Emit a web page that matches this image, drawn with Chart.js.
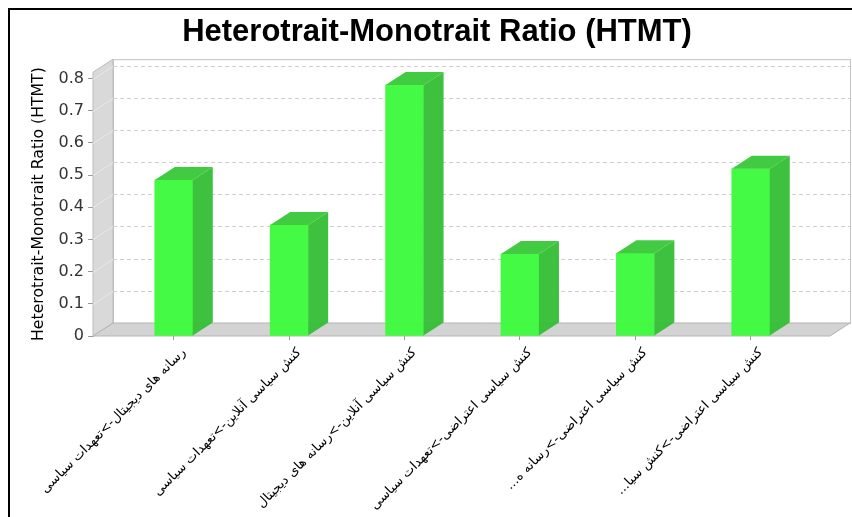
<!DOCTYPE html>
<html lang="fa">
<head>
  <meta charset="UTF-8">
  <title>Heterotrait-Monotrait Ratio (HTMT)</title>
  <script src="https://cdn.jsdelivr.net/npm/chart.js"></script>
  <style>
    html, body { margin: 0; padding: 0; background: #fff; }
    canvas { display: block; }
  </style>
</head>
<body>
  <canvas id="htmt-chart" width="852" height="517"></canvas>

  <script>
    // data
    var pathLabels = [
      'رسانه های دیجیتال->تعهدات سیاسی',
      'کنش سیاسی آنلاین->تعهدات سیاسی',
      'کنش سیاسی آنلاین->رسانه های دیجیتال',
      'کنش سیاسی اعتراضی->تعهدات سیاسی',
      'کنش سیاسی اعتراضی->رسانه ه...\u200F',
      'کنش سیاسی اعتراضی->کنش سیا...\u200F'
    ];
    var htmtValues = [0.485, 0.345, 0.78, 0.255, 0.257, 0.52];
    var yTickValues = [0, 0.1, 0.2, 0.3, 0.4, 0.5, 0.6, 0.7, 0.8];

    // 3d depth of walls and bars
    var DX = 20, DY = -13;

    var box3d = {
      id: 'box3d',
      beforeDraw: function (chart) {
        var ctx = chart.ctx;
        ctx.save();
        ctx.fillStyle = '#fff';
        ctx.fillRect(0, 0, chart.width, chart.height);
        ctx.fillStyle = '#000';
        ctx.fillRect(8, 8, chart.width - 8, 2);
        ctx.fillRect(8, 8, 2, chart.height - 8);
        ctx.restore();
      },
      beforeDatasetsDraw: function (chart) {
        var ctx = chart.ctx, a = chart.chartArea, ys = chart.scales.y;
        var L = a.left, R = a.right - DX, T = a.top, B = a.bottom;
        ctx.save();
        ctx.lineWidth = 1;

        // back wall
        ctx.fillStyle = '#fff';
        ctx.strokeStyle = '#c4c4c4';
        ctx.fillRect(L + DX, T + DY, R - L, B - T);
        ctx.strokeRect(L + DX + 0.5, T + DY + 0.5, R - L, B - T);

        // left wall
        ctx.beginPath();
        ctx.moveTo(L, T);
        ctx.lineTo(L + DX, T + DY);
        ctx.lineTo(L + DX, B + DY);
        ctx.lineTo(L, B);
        ctx.closePath();
        ctx.fillStyle = '#d9d9d9';
        ctx.fill();
        ctx.strokeStyle = '#bcbcbc';
        ctx.stroke();

        // grid on the back wall
        ys.ticks.forEach(function (t) {
          if (t.value === 0) return;
          var py = Math.round(ys.getPixelForValue(t.value)) + 0.5;
          ctx.setLineDash([]);
          ctx.strokeStyle = '#e9e9e9';
          ctx.beginPath();
          ctx.moveTo(L, py);
          ctx.lineTo(L + DX, py + DY);
          ctx.stroke();
          ctx.setLineDash([4, 3]);
          ctx.strokeStyle = '#cfcfcf';
          ctx.beginPath();
          ctx.moveTo(L + DX, py + DY);
          ctx.lineTo(R + DX, py + DY);
          ctx.stroke();
        });
        ctx.setLineDash([]);

        // floor
        ctx.beginPath();
        ctx.moveTo(L, B);
        ctx.lineTo(L + DX, B + DY);
        ctx.lineTo(R + DX, B + DY);
        ctx.lineTo(R, B);
        ctx.closePath();
        ctx.fillStyle = '#d3d3d3';
        ctx.fill();
        ctx.strokeStyle = '#b4b4b4';
        ctx.stroke();
        ctx.restore();
      },
      afterDatasetsDraw: function (chart) {
        var ctx = chart.ctx;
        ctx.save();
        chart.getDatasetMeta(0).data.forEach(function (bar) {
          var x0 = bar.x - bar.width / 2, x1 = bar.x + bar.width / 2;
          var top = bar.y, base = bar.base;
          // side
          ctx.beginPath();
          ctx.moveTo(x1, top);
          ctx.lineTo(x1 + DX, top + DY);
          ctx.lineTo(x1 + DX, base + DY);
          ctx.lineTo(x1, base);
          ctx.closePath();
          ctx.fillStyle = 'rgba(52, 190, 52, 0.95)';
          ctx.fill();
          // top
          ctx.beginPath();
          ctx.moveTo(x0, top);
          ctx.lineTo(x0 + DX, top + DY);
          ctx.lineTo(x1 + DX, top + DY);
          ctx.lineTo(x1, top);
          ctx.closePath();
          ctx.fillStyle = 'rgba(56, 200, 56, 0.95)';
          ctx.fill();
        });
        ctx.restore();
      }
    };

    new Chart(document.getElementById('htmt-chart'), {
      type: 'bar',
      data: {
        datasets: [{
          label: 'HTMT',
          data: htmtValues.map(function (v, i) { return { x: i, y: v }; }),
          backgroundColor: 'rgba(62, 250, 62, 0.97)',
          borderWidth: 0,
          barThickness: 38
        }]
      },
      options: {
        responsive: false,
        animation: false,
        layout: { padding: { left: 24, right: 2, top: 0, bottom: 0 } },
        plugins: {
          legend: { display: false },
          tooltip: { enabled: false },
          title: {
            display: true,
            text: 'Heterotrait-Monotrait Ratio (HTMT)',
            color: '#000',
            font: { family: 'Liberation Sans', size: 31, weight: 'bold' },
            padding: { top: 14, bottom: 21 }
          }
        },
        scales: {
          x: {
            type: 'linear',
            min: -0.7,
            max: 5.86,
            offset: false,
            grid: { offset: false, drawOnChartArea: false, drawTicks: true, tickLength: 4, color: '#999' },
            border: { display: false },
            afterBuildTicks: function (s) {
              s.ticks = pathLabels.map(function (l, i) { return { value: i }; });
            },
            afterFit: function (s) { s.height = 181; },
            ticks: {
              autoSkip: false,
              minRotation: 45,
              maxRotation: 45,
              labelOffset: 10,
              padding: 5,
              color: '#000',
              font: { family: 'DejaVu Sans', size: 13 },
              callback: function (v) { return pathLabels[v]; }
            }
          },
          y: {
            min: 0,
            max: 0.82,
            grid: { drawOnChartArea: false, drawTicks: true, tickLength: 5, color: '#999' },
            border: { display: true, color: '#b0b0b0' },
            afterBuildTicks: function (s) {
              s.ticks = yTickValues.map(function (v) { return { value: v }; });
            },
            afterFit: function (s) { s.width = 69; },
            ticks: {
              padding: 4,
              color: '#333',
              font: { family: 'DejaVu Sans', size: 16 },
              callback: function (v) { return String(v); }
            },
            title: {
              display: true,
              text: 'Heterotrait-Monotrait Ratio (HTMT)',
              color: '#000',
              font: { family: 'DejaVu Sans', size: 15.7 },
              padding: { top: 6, bottom: 0 }
            }
          }
        }
      },
      plugins: [box3d]
    });
  </script>
</body>
</html>
